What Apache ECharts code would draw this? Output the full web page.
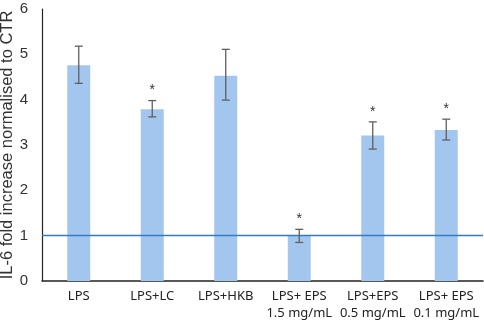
<!DOCTYPE html>
<html>
<head>
<meta charset="utf-8">
<script src="https://cdn.jsdelivr.net/npm/echarts@6/dist/echarts.min.js"></script>
<style>
html,body{margin:0;padding:0;background:#fff;}
#chart{width:484px;height:325px;}
</style>
</head>
<body>
<div id="chart"></div>
<script>
var groups = ['LPS', 'LPS+LC', 'LPS+HKB', 'LPS+ EPS\n1.5 mg/mL', 'LPS+EPS\n0.5 mg/mL', 'LPS+ EPS\n0.1 mg/mL'];
var foldValues = [4.76, 3.79, 4.53, 0.99, 3.21, 3.33];
var errLow = [4.36, 3.62, 3.99, 0.85, 2.91, 3.11];
var errHigh = [5.18, 3.98, 5.11, 1.14, 3.51, 3.57];
var starred = [false, true, false, true, true, true];
var ctrLevel = 1;

var errData = [];
for (var i = 0; i < groups.length; i++) {
	errData.push([i, errLow[i], errHigh[i], starred[i] ? 1 : 0]);
}

var myChart = echarts.init(document.getElementById('chart'));

function renderErr(params, api) {
	var x = api.value(0);
	var lo = api.coord([x, api.value(1)]);
	var hi = api.coord([x, api.value(2)]);
	var cap = 4;
	var st = {stroke: '#5f5f5f', lineWidth: 1.3};
	var kids = [
		{type: 'line', shape: {x1: hi[0], y1: hi[1], x2: lo[0], y2: lo[1]}, style: st},
		{type: 'line', shape: {x1: hi[0] - cap, y1: hi[1], x2: hi[0] + cap, y2: hi[1]}, style: st},
		{type: 'line', shape: {x1: lo[0] - cap, y1: lo[1], x2: lo[0] + cap, y2: lo[1]}, style: st}
	];
	if (api.value(3) == 1) {
		kids.push({
			type: 'text',
			style: {
				text: '*', x: hi[0], y: hi[1] - 3,
				align: 'center', verticalAlign: 'bottom',
				fill: '#333', font: '14px "Liberation Sans"'
			}
		});
	}
	return {type: 'group', children: kids};
}

var option = {
	animation: false,
	grid: {left: 42, right: 1, top: 9, bottom: 44, containLabel: false, outerBoundsMode: 'none'},
	xAxis: {
		type: 'category',
		data: groups,
		axisLine: {lineStyle: {color: '#222', width: 1.5}},
		axisTick: {show: false},
		axisLabel: {
			color: '#222', fontSize: 13, fontFamily: 'Noto Sans',
			margin: 7, lineHeight: 17, interval: 0
		}
	},
	yAxis: {
		type: 'value',
		min: 0, max: 6, interval: 1,
		name: 'IL-6 fold increase normalised to CTR',
		nameLocation: 'middle',
		nameGap: 26,
		nameMoveOverlap: false,
		nameTextStyle: {color: '#333', fontSize: 16.5, fontFamily: '"Liberation Sans", Arial, sans-serif'},
		axisLine: {show: true, lineStyle: {color: '#222', width: 1.2}},
		axisTick: {show: false},
		splitLine: {show: false},
		axisLabel: {color: '#333', fontSize: 15, fontFamily: '"Liberation Sans", Arial, sans-serif', margin: 14}
	},
	series: [
		{
			type: 'bar',
			data: foldValues,
			barWidth: 23,
			itemStyle: {color: '#a3c6ee'},
			markLine: {
				silent: true,
				symbol: 'none',
				label: {show: false},
				emphasis: {disabled: true},
				lineStyle: {color: '#2f7bc4', width: 1.3, type: 'solid', opacity: 1},
				data: [{yAxis: ctrLevel, lineStyle: {color: '#2f7bc4', width: 1.3}}]
			}
		},
		{
			type: 'custom',
			renderItem: renderErr,
			data: errData,
			z: 5
		}
	]
};
myChart.setOption(option);
</script>
</body>
</html>
